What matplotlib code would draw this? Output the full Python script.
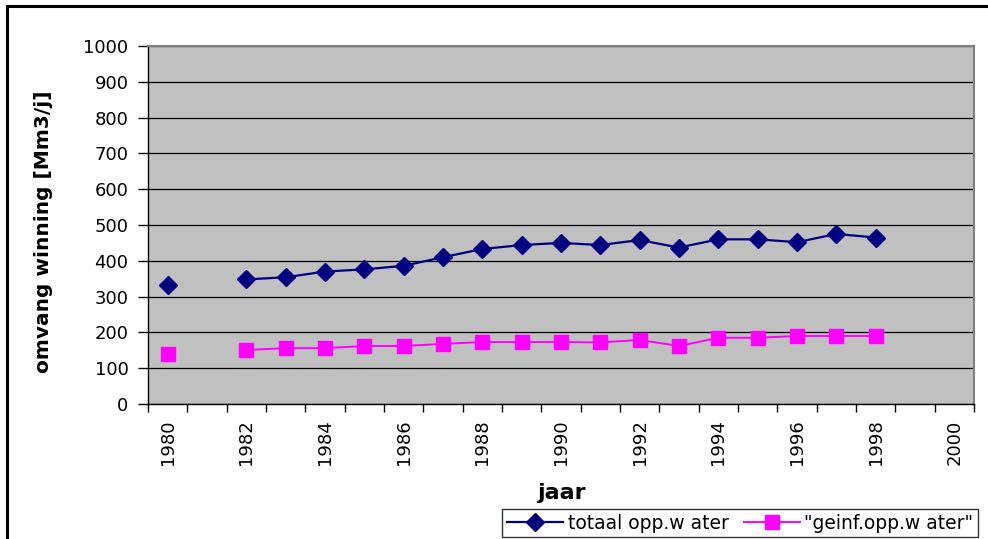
import numpy as np
import matplotlib
matplotlib.use("Agg")
import matplotlib.pyplot as plt
from matplotlib.patches import Rectangle
from matplotlib.ticker import MultipleLocator

plt.rcParams['font.family'] = ['DejaVu Sans']

# data (1981 ontbreekt)
jaren = np.arange(1980, 1999)
totaal = [332, np.nan, 348, 354, 370, 376, 386, 410, 433, 444, 450, 444,
          458, 437, 460, 460, 452, 475, 465]
geinf = [140, np.nan, 151, 156, 156, 162, 162, 168, 173, 173, 173, 172,
         179, 162, 185, 185, 190, 190, 190]
labels = ['totaal opp.w ater', '"geinf.opp.w ater"']

fig = plt.figure(figsize=(9.88, 5.39), dpi=100)
ax = fig.add_axes([148/988, 135/539, 826/988, 358/539])
ax.set_facecolor('#C0C0C0')

l1, = ax.plot(jaren, totaal, '-D', color='#000080', lw=1.6, ms=9,
              label=labels[0], zorder=3)
l2, = ax.plot(jaren, geinf, '-s', color='#FF00FF', lw=1.4, ms=10,
              label=labels[1], zorder=3)

# assen
ax.set_xlim(1979.5, 2000.5)
ax.set_ylim(0, 1000)
ax.yaxis.set_major_locator(MultipleLocator(100))
ax.set_xticks(np.arange(1980, 2001, 2))
ax.set_xticks(np.arange(1979.5, 2001, 1), minor=True)
ax.tick_params(axis='x', which='major', length=0, pad=11, labelsize=13,
               labelrotation=90)
ax.tick_params(axis='x', which='minor', length=6, width=1, direction='out')
ax.tick_params(axis='y', length=7, width=1, pad=7, labelsize=13)
ax.grid(axis='y', color='black', lw=0.9)
ax.set_axisbelow(True)

for s in ['top', 'right']:
    ax.spines[s].set_color('#808080')
    ax.spines[s].set_linewidth(1.5)
ax.spines['left'].set_linewidth(1)
ax.spines['bottom'].set_linewidth(1)

ax.set_ylabel('omvang winning [Mm3/j]', fontsize=14.5, fontweight='bold')
ax.yaxis.set_label_coords(-0.115, 0.48)
fig.text(562/988, 1 - 493/539, 'jaar', ha='center', va='center',
         fontsize=16, fontweight='bold')

# rand rond de grafiek
fig.patches.append(Rectangle((7/988, -0.1), 1.2, 1 - 6/539 + 0.1,
                             transform=fig.transFigure, fill=False,
                             edgecolor='black', lw=2.2, clip_on=False))

leg = fig.legend(handles=[l1, l2], loc='upper left',
                 bbox_to_anchor=(502/988, 1 - 509/539), ncol=2,
                 fontsize=13.5, frameon=True, fancybox=False,
                 edgecolor='black', handlelength=3.0, handletextpad=0.25,
                 columnspacing=0.8, borderpad=0.25, borderaxespad=0)
leg.get_frame().set_linewidth(1)

fig.savefig('out.png', dpi=100)
